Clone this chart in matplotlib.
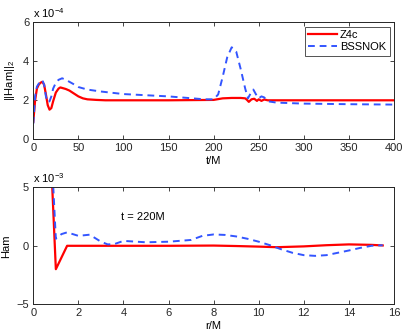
import matplotlib
matplotlib.use("Agg")
import matplotlib.pyplot as plt

plt.rcParams['font.family'] = ['Liberation Sans', 'DejaVu Sans']
plt.rcParams['mathtext.fontset'] = 'custom'
plt.rcParams['mathtext.rm'] = 'Liberation Sans'
plt.rcParams['mathtext.it'] = 'Liberation Sans:italic'
plt.rcParams['font.size'] = 7.5

# ---- top panel data (units of 1e-4) ----
t_z4c = [0, 2, 4, 6, 8, 10, 12, 14, 16, 18, 20, 22, 25, 28, 30, 33, 36, 40, 45, 50, 55, 60, 70, 80, 100,
         150, 200, 205, 210, 220, 230, 235, 237, 239, 242, 245, 248, 250, 253, 256, 260, 270, 300, 350, 400]
ham_z4c = [0.9, 2.0, 2.6, 2.8, 2.9, 2.95, 2.8, 2.3, 1.75, 1.52, 1.6, 1.95, 2.4, 2.6, 2.66, 2.62, 2.58, 2.5, 2.35,
           2.2, 2.1, 2.05, 2.02, 2.0, 2.0, 2.0, 2.02, 2.06, 2.1, 2.12, 2.12, 2.1, 2.02, 1.92, 2.05, 2.08, 1.97,
           2.05, 1.97, 2.04, 2.0, 2.0, 2.0, 2.0, 2.0]

t_bss = [0, 2, 4, 6, 8, 10, 12, 14, 16, 18, 20, 22, 25, 28, 32, 36, 40, 45, 50, 60, 75, 100, 150, 190, 200,
         205, 210, 215, 220, 225, 230, 235, 238, 241, 244, 247, 250, 253, 256, 260, 270, 300, 350, 400]
ham_bss = [0.8, 2.2, 2.7, 2.85, 2.95, 3.04, 2.8, 2.2, 1.9, 1.95, 2.2, 2.6, 2.9, 3.05, 3.13, 3.05, 2.95, 2.82,
           2.68, 2.55, 2.45, 2.32, 2.2, 2.05, 2.05, 2.3, 3.2, 4.2, 4.72, 4.5, 3.6, 2.6, 2.1, 2.35, 2.55, 2.3,
           2.1, 2.2, 2.15, 1.95, 1.88, 1.83, 1.8, 1.78]

# ---- bottom panel data (units of 1e-3), t = 220M ----
r_z4c = [0.5, 1.0, 1.5, 2, 4, 6, 8, 9, 10, 10.8, 12, 13, 14, 15, 15.5]
h_z4c = [20, -2.0, 0.0, 0.0, 0.0, 0.0, 0.02, -0.02, -0.07, -0.12, -0.05, 0.05, 0.12, 0.08, 0.03]

r_bss = [0.5, 1.0, 1.25, 1.5, 2.0, 2.5, 3.0, 3.3, 3.6, 4, 5, 6, 7, 7.5, 8, 8.5, 9, 9.5, 10, 10.5, 11, 11.5,
         12, 12.5, 13, 13.5, 14, 14.5, 15, 15.5]
h_bss = [20, 0.6, 1.0, 1.15, 0.85, 0.95, 0.35, 0.12, 0.15, 0.42, 0.3, 0.35, 0.5, 0.85, 0.97, 0.93, 0.8, 0.6,
         0.35, 0.05, -0.3, -0.6, -0.8, -0.86, -0.8, -0.6, -0.4, -0.18, 0.0, 0.05]

labels = ['Z4c', 'BSSNOK']
red = '#ff0000'
blue = '#3355ff'
spine_c = '#262626'

W, H = 407, 334
fig = plt.figure(figsize=(W / 100, H / 100), dpi=100)
ax1 = fig.add_axes([33.3 / W, (H - 139.3) / H, 360.7 / W, 117 / H])
ax2 = fig.add_axes([33.3 / W, (H - 304.3) / H, 360.7 / W, 117 / H])

for ax in (ax1, ax2):
    ax.tick_params(direction='in', top=True, right=True, length=3, width=0.6, colors=spine_c,
                   labelsize=8, pad=3)
    for s in ax.spines.values():
        s.set_linewidth(0.7)
        s.set_color(spine_c)

ax1.plot(t_z4c, ham_z4c, color=red, lw=1.6, label=labels[0])
ax1.plot(t_bss, ham_bss, color=blue, lw=1.4, ls=(0, (3.5, 2.5)), label=labels[1])
ax1.set_xlim(0, 400)
ax1.set_ylim(0, 6)
ax1.set_xticks(range(0, 401, 50))
ax1.set_yticks([0, 2, 4, 6])
ax1.set_xlabel('t/M', fontsize=8, labelpad=1.5)
ax1.set_ylabel('||Ham||$_2$', fontsize=8, labelpad=4)
ax1.text(0.0, 1.02, r'x 10$^{-4}$', transform=ax1.transAxes, fontsize=8, ha='left', va='bottom')
leg = ax1.legend(loc='upper right', fontsize=8, handlelength=2.6, frameon=True, fancybox=False,
                 borderpad=0.3, labelspacing=0.2, handletextpad=0.3, borderaxespad=0.4)
leg.get_frame().set_edgecolor(spine_c)
leg.get_frame().set_linewidth(0.7)

ax2.plot(r_z4c, h_z4c, color=red, lw=1.6)
ax2.plot(r_bss, h_bss, color=blue, lw=1.4, ls=(0, (3.5, 2.5)))
ax2.set_xlim(0, 16)
ax2.set_ylim(-5, 5)
ax2.set_xticks(range(0, 17, 2))
ax2.set_yticks([-5, 0, 5])
ax2.set_yticklabels(['\u22125', '0', '5'])
ax2.set_xlabel('r/M', fontsize=8, labelpad=1.5)
ax2.set_ylabel('Ham', fontsize=8, labelpad=4)
ax2.text(0.0, 1.02, r'x 10$^{-3}$', transform=ax2.transAxes, fontsize=8, ha='left', va='bottom')
ax2.text(3.9, 2.5, 't = 220M', fontsize=8, ha='left', va='center')

fig.savefig('out.png', dpi=100)
